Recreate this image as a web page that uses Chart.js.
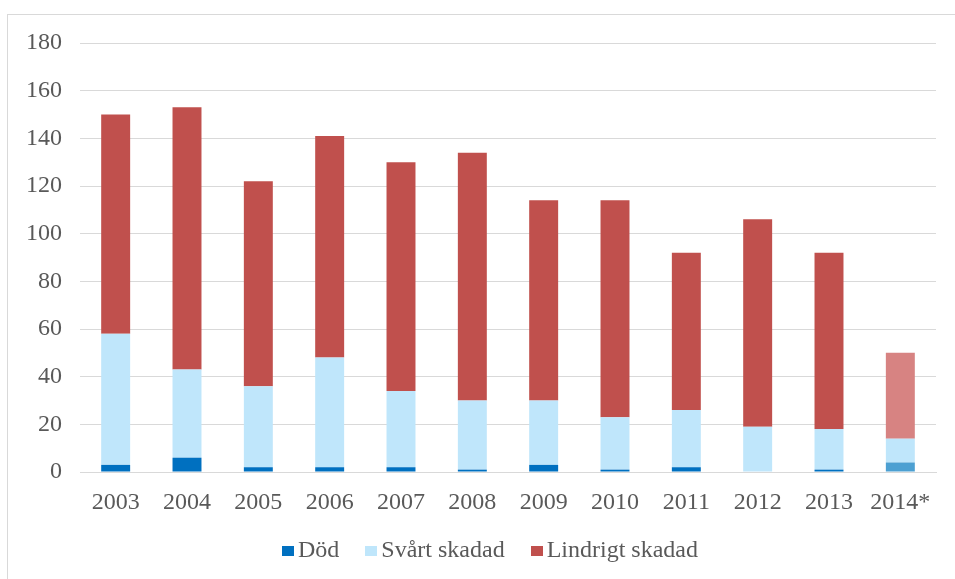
<!DOCTYPE html>
<html><head><meta charset="utf-8">
<script src="https://cdn.jsdelivr.net/npm/chart.js@4"></script>
<style>
html,body{margin:0;padding:0;background:#fff;}
#wrap{position:relative;width:955px;height:579px;overflow:hidden;}
#frame{position:absolute;left:7px;top:14px;width:970px;height:600px;border:1px solid #d9d9d9;box-sizing:border-box;}
#c{position:absolute;left:0;top:0;}
#legend{position:absolute;left:282px;top:536px;display:flex;align-items:center;font-family:"Liberation Serif","Times New Roman",serif;font-size:24px;color:#595959;white-space:nowrap;}
#legend .it{display:flex;align-items:center;margin-right:26px;}
#legend .bx{width:12px;height:10px;margin-right:4px;margin-top:3px;}
</style></head>
<body>
<div id="wrap">
<div id="frame"></div>
<canvas id="c" width="955" height="579"></canvas>
<div id="legend"></div>
</div>
<script>
const years = ["2003","2004","2005","2006","2007","2008","2009","2010","2011","2012","2013","2014*"];
const dod = [3,6,2,2,2,1,3,1,2,0,1,4];
const svart = [55,37,34,46,32,29,27,22,24,19,17,10];
const lindrigt = [92,110,86,93,96,104,84,91,66,87,74,36];
const seriesNames = ["Död","Svårt skadad","Lindrigt skadad"];
const yTicksMax = 180, yStep = 20;

const baseColors = ["#0070C0","#BFE6FB","#C0504D"];
const lastColors = ["#4CA0D2","#BFE6FB","#D78382"];
function colorsFor(i){ return years.map((y,k)=> k===years.length-1 ? lastColors[i] : baseColors[i]); }

const font = {family:'"Liberation Serif","Times New Roman",serif', size:24};

new Chart(document.getElementById('c'), {
  type:'bar',
  data:{
    labels: years,
    datasets:[
      {label:seriesNames[0], data:dod, backgroundColor:colorsFor(0)},
      {label:seriesNames[1], data:svart, backgroundColor:colorsFor(1)},
      {label:seriesNames[2], data:lindrigt, backgroundColor:colorsFor(2)}
    ]
  },
  options:{
    responsive:false, animation:false,
    layout:{padding:{left:0,right:19,top:43,bottom:0}},
    datasets:{bar:{barPercentage:0.406,categoryPercentage:1,borderWidth:0}},
    plugins:{legend:{display:false},tooltip:{enabled:false}},
    scales:{
      x:{stacked:true,
         grid:{display:false},
         border:{display:true,color:'#d9d9d9'},
         ticks:{font:font,color:'#595959',padding:8,maxRotation:0},
         afterFit(s){ s.height = 107; }
      },
      y:{stacked:true,min:0,max:yTicksMax,
         grid:{color:'#d9d9d9',drawTicks:false},
         border:{display:false},
         ticks:{stepSize:yStep,font:font,color:'#595959',padding:18},
         afterFit(s){ s.width = 80; }
      }
    }
  }
});

const lg = document.getElementById('legend');
seriesNames.forEach((n,i)=>{
  const d=document.createElement('div');d.className='it';
  const b=document.createElement('div');b.className='bx';b.style.background=baseColors[i];
  const t=document.createElement('span');t.textContent=n;
  d.appendChild(b);d.appendChild(t);lg.appendChild(d);
});
</script>
</body></html>
